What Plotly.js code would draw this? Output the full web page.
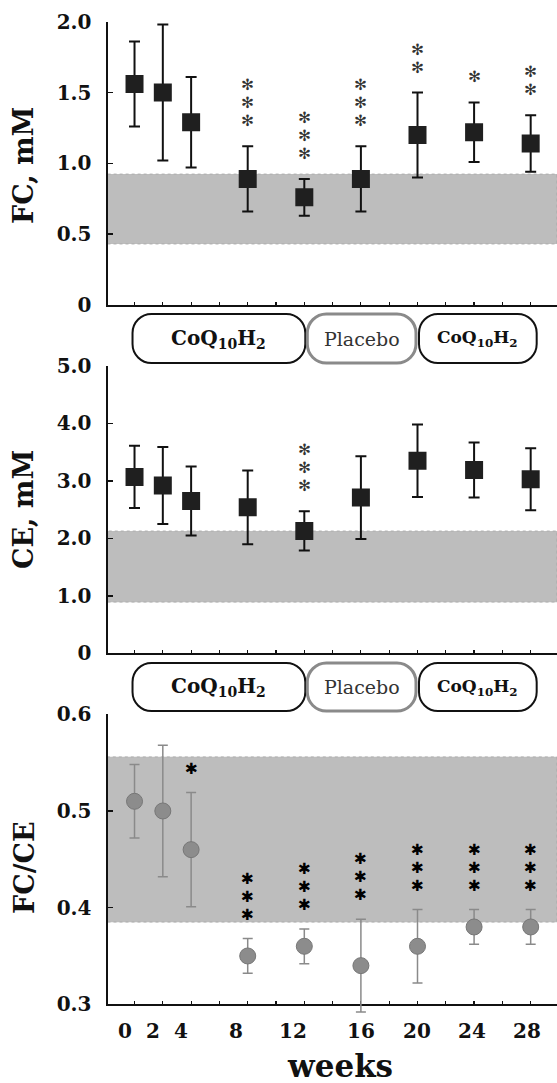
<!DOCTYPE html>
<html>
<head>
<meta charset="utf-8">
<script src="https://cdn.plot.ly/plotly-3.0.1.min.js"></script>
<style>
  html, body { margin: 0; padding: 0; background: #fff; }
  #chart { width: 557px; height: 1083px; }
</style>
</head>
<body>
<div id="chart"></div>
<script>
// Time course of free cholesterol (FC), cholesteryl ester (CE) and FC/CE
const weeks = [0, 2, 4, 8, 12, 16, 20, 24, 28];
const weekLabels = ['0', '2', '4', '8', '12', '16', '20', '24', '28'];

const fcMean = [1.56, 1.50, 1.29, 0.89, 0.76, 0.89, 1.20, 1.22, 1.14];
const fcSD   = [0.30, 0.48, 0.32, 0.23, 0.13, 0.23, 0.30, 0.21, 0.20];
const fcStars = ['', '', '', '***', '***', '***', '**', '*', '**'];

const ceMean = [3.07, 2.92, 2.65, 2.54, 2.13, 2.71, 3.35, 3.19, 3.03];
const ceSD   = [0.54, 0.67, 0.60, 0.64, 0.34, 0.72, 0.63, 0.48, 0.54];
const ceStars = ['', '', '', '', '***', '', '', '', ''];

const ratioMean = [0.51, 0.50, 0.46, 0.35, 0.36, 0.34, 0.36, 0.38, 0.38];
const ratioSD   = [0.038, 0.068, 0.059, 0.018, 0.018, 0.048, 0.038, 0.018, 0.018];
const ratioStars = ['', '', '*', '***', '***', '***', '***', '***', '***'];

// normal ranges (shaded bands)
const fcNormal = [0.43, 0.925];
const ceNormal = [0.89, 2.13];
const ratioNormal = [0.385, 0.556];

// treatment periods (weeks)
const phaseLabels = ['CoQ<sub>10</sub>H<sub>2</sub>', 'Placebo', 'CoQ<sub>10</sub>H<sub>2</sub>'];
const phaseStart = [0, 12, 20];
const phaseEnd = [12, 20, 28];

// ---- layout geometry (pixels) ----
const W = 557, H = 1083;
const plotLeft = 107.5, plotRight = 557;
const xRange = [-1.91, 29.86];
const panels = [
  { top: 21.7, bottom: 305, range: [0, 2.0], tickvals: [0, 0.5, 1, 1.5, 2], ticktext: ['0', '0.5', '1.0', '1.5', '2.0'], title: 'FC, mM', titleY: 166 },
  { top: 366, bottom: 653.3, range: [0, 5.0], tickvals: [0, 1, 2, 3, 4, 5], ticktext: ['0', '1.0', '2.0', '3.0', '4.0', '5.0'], title: 'CE, mM', titleY: 510 },
  { top: 714.3, bottom: 1004.3, range: [0.3, 0.6], tickvals: [0.3, 0.4, 0.5, 0.6], ticktext: ['0.3', '0.4', '0.5', '0.6'], title: 'FC/CE', titleY: 868 }
];
const boxRows = [[314, 363], [663, 711]];
const boxPadL = [-2, 3, 1.5], boxPadR = [1, -1.5, 6];
const boxFont = [20, 19, 17];
const boxLine = ['#111', '#8a8a8a', '#111'];
const boxLineW = [2, 3, 2];

const px = v => v / W;
const py = v => 1 - v / H;
const xToPx = w => plotLeft + (w - xRange[0]) / (xRange[1] - xRange[0]) * (plotRight - plotLeft);

const tickFont = { family: 'DejaVu Serif', size: 20, weight: 'bold', color: '#111' };

const layout = {
  width: W, height: H,
  margin: { l: 0, r: 0, t: 0, b: 0 },
  paper_bgcolor: '#fff', plot_bgcolor: 'rgba(0,0,0,0)',
  showlegend: false,
  shapes: [], annotations: []
};

const xTickVals = [];
for (let w = 0; w <= 28; w += 2) xTickVals.push(w);

panels.forEach((p, i) => {
  const n = i === 0 ? '' : String(i + 1);
  layout['xaxis' + n] = {
    domain: [px(plotLeft), 1], range: xRange, anchor: 'y' + n,
    showline: true, linewidth: 2, linecolor: '#111', mirror: false,
    ticks: 'inside', ticklen: 3, tickwidth: 1.2, tickcolor: '#111',
    tickvals: xTickVals, showticklabels: false,
    showgrid: false, zeroline: false, fixedrange: true
  };
  layout['yaxis' + n] = {
    domain: [py(p.bottom), py(p.top)], range: p.range, anchor: 'x' + n,
    showline: true, linewidth: 2, linecolor: '#111', mirror: false,
    ticks: 'inside', ticklen: 5, tickwidth: 1.5, tickcolor: '#111',
    tickvals: p.tickvals, ticktext: p.ticktext, tickfont: tickFont,
    ticklabelstandoff: 10,
    showgrid: false, zeroline: false, fixedrange: true
  };
  layout.annotations.push({
    xref: 'paper', yref: 'paper', x: px(24), y: py(p.titleY),
    text: p.title, textangle: -90, showarrow: false,
    xanchor: 'center', yanchor: 'middle',
    font: { family: 'DejaVu Serif', size: 27, weight: 'bold', color: '#111' }
  });
});

// FC/CE points live on a hidden twin of the bottom panel whose scale is
// identical but whose domain reaches a little below the axis line, so the
// lowest error bar is not cut off.
const p3 = panels[2];
const ext = 18; // px below the axis line
const unitPx = (p3.bottom - p3.top) / (p3.range[1] - p3.range[0]);
layout.xaxis4 = { domain: [px(plotLeft), 1], range: xRange, anchor: 'y4', visible: false, fixedrange: true };
layout.yaxis4 = {
  domain: [py(p3.bottom + ext), py(p3.top)],
  range: [p3.range[0] - ext / unitPx, p3.range[1]],
  anchor: 'x4', visible: false, fixedrange: true
};

// shaded normal ranges
[[fcNormal, ''], [ceNormal, '2'], [ratioNormal, '3']].forEach(([band, n]) => {
  layout.shapes.push({
    type: 'rect', xref: 'x' + n + ' domain', yref: 'y' + n,
    x0: 0, x1: 1, y0: band[0], y1: band[1],
    fillcolor: '#bdbdbd', line: { width: 0.6, color: '#9a9a9a', dash: 'dot' }, layer: 'below'
  });
});

// treatment period pills
function pillPath(x0, x1, y0, y1, r) {
  const k = 0.5523 * r;
  const P = (x, y) => px(x).toFixed(5) + ',' + py(y).toFixed(5);
  return 'M' + P(x0 + r, y0) +
    ' L' + P(x1 - r, y0) +
    ' C' + P(x1 - r + k, y0) + ' ' + P(x1, y0 + r - k) + ' ' + P(x1, y0 + r) +
    ' L' + P(x1, y1 - r) +
    ' C' + P(x1, y1 - r + k) + ' ' + P(x1 - r + k, y1) + ' ' + P(x1 - r, y1) +
    ' L' + P(x0 + r, y1) +
    ' C' + P(x0 + r - k, y1) + ' ' + P(x0, y1 - r + k) + ' ' + P(x0, y1 - r) +
    ' L' + P(x0, y0 + r) +
    ' C' + P(x0, y0 + r - k) + ' ' + P(x0 + r - k, y0) + ' ' + P(x0 + r, y0) + ' Z';
}
boxRows.forEach(([top, bot]) => {
  phaseLabels.forEach((lab, j) => {
    const x0 = xToPx(phaseStart[j]) + boxPadL[j];
    const x1 = xToPx(phaseEnd[j]) + boxPadR[j];
    layout.shapes.push({
      type: 'path', xref: 'paper', yref: 'paper',
      path: pillPath(x0, x1, top, bot, 19),
      fillcolor: '#fff', line: { color: boxLine[j], width: boxLineW[j] }
    });
    layout.annotations.push({
      xref: 'paper', yref: 'paper', x: px((x0 + x1) / 2), y: py((top + bot) / 2),
      text: lab, showarrow: false, xanchor: 'center', yanchor: 'middle',
      font: { family: 'DejaVu Serif', size: boxFont[j], weight: j === 1 ? 'normal' : 'bold', color: j === 1 ? '#333' : '#111' }
    });
  });
});

// week labels under the bottom panel
const weekShift = [-9.5, -9.5, -10.5, -12, -11, 0, -1, -2.5, -3.5];
weeks.forEach((w, i) => {
  layout.annotations.push({
    xref: 'x3', yref: 'paper', x: w, y: py(1031), xshift: weekShift[i],
    text: weekLabels[i], showarrow: false, xanchor: 'center', yanchor: 'middle',
    font: tickFont
  });
});
layout.annotations.push({
  xref: 'paper', yref: 'paper', x: px(340), y: py(1066),
  text: 'weeks', showarrow: false, xanchor: 'center', yanchor: 'middle',
  font: { family: 'DejaVu Serif', size: 31, weight: 'bold', color: '#111' }
});

// significance asterisks stacked above the upper error bar
function addStars(stars, mean, sd, n, glyph, color, glyphSize, shift) {
  stars.forEach((s, i) => {
    if (!s) return;
    const g = '<span style="font-size:' + glyphSize + 'px">' + glyph + '</span>';
    layout.annotations.push({
      xref: 'x' + n, yref: 'y' + n, x: weeks[i], y: mean[i] + sd[i],
      yshift: shift, text: s.split('').map(() => g).join('<br>'),
      showarrow: false, xanchor: 'center', yanchor: 'bottom',
      font: { family: 'DejaVu Sans', size: 14, color: color }
    });
  });
}
addStars(fcStars, fcMean, fcSD, '', '✻', '#333', 15.5, 14);
addStars(ceStars, ceMean, ceSD, '2', '✻', '#333', 15.5, 14);
addStars(ratioStars, ratioMean, ratioSD, '3', '✱', '#000', 15.5, 13);

const squareTrace = (y, sd, n) => ({
  x: weeks, y: y, xaxis: 'x' + n, yaxis: 'y' + n, type: 'scatter', mode: 'markers',
  marker: { symbol: 'square', size: 18, color: '#1f1f1f', line: { width: 0 } },
  error_y: { type: 'data', array: sd, visible: true, color: '#111', thickness: 2, width: 5.5 },
  hoverinfo: 'skip'
});

const data = [
  squareTrace(fcMean, fcSD, ''),
  squareTrace(ceMean, ceSD, '2'),
  {
    x: weeks, y: ratioMean, xaxis: 'x4', yaxis: 'y4', type: 'scatter', mode: 'markers',
    marker: { symbol: 'circle', size: 16, color: '#8c8c8c', line: { width: 1, color: '#777' } },
    error_y: { type: 'data', array: ratioSD, visible: true, color: '#8a8a8a', thickness: 1.5, width: 5 },
    hoverinfo: 'skip'
  }
];

Plotly.newPlot('chart', data, layout, { staticPlot: true });
</script>
</body>
</html>
